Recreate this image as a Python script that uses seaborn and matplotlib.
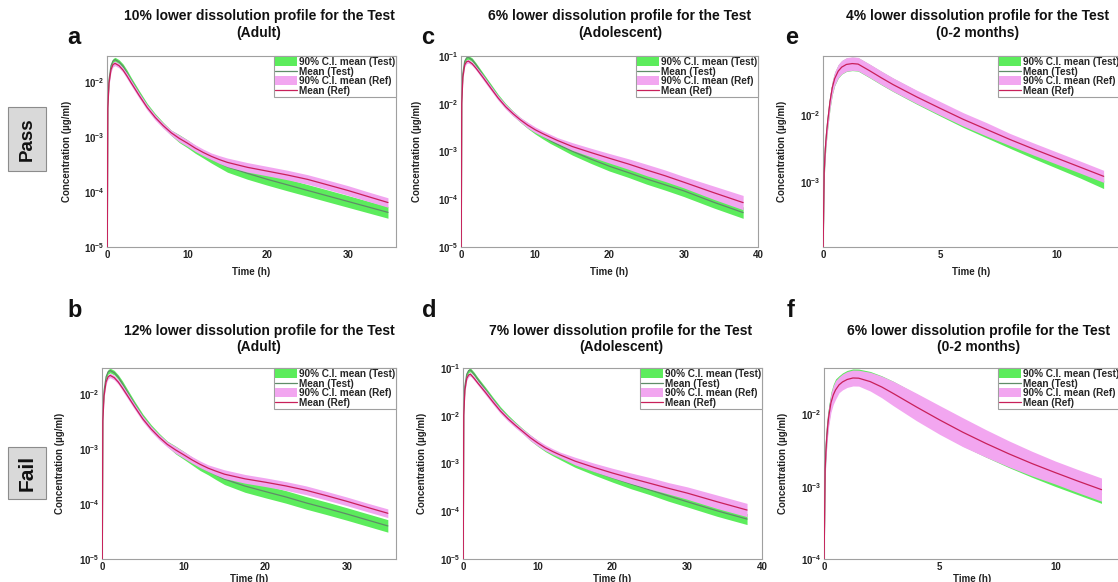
import math
import matplotlib
matplotlib.use("Agg")
import matplotlib.pyplot as plt
from matplotlib.lines import Line2D
from matplotlib.patches import Patch, Rectangle
from matplotlib.ticker import FixedLocator, FuncFormatter, NullLocator
import seaborn as sns

# ---- data (time in h, concentration in ug/ml) ----
t_adult = [0.01, 0.1, 0.25, 0.5, 0.75, 1, 1.5, 2, 2.5, 3, 4, 5, 6, 7, 8, 9, 10, 11, 12, 13, 14, 15,
           17.5, 20, 22.5, 25, 27.5, 30, 32.5, 35]
t_adol = [0.01, 0.1, 0.25, 0.5, 0.75, 1, 1.5, 2, 3, 4, 5, 6, 7, 8, 9, 10, 11, 12, 13, 15,
          17.5, 20, 22.5, 25, 27.5, 30, 34, 38]
t_infant = [0.005, 0.05, 0.1, 0.15, 0.2, 0.3, 0.4, 0.5, 0.65, 0.8, 1.0, 1.25, 1.5, 2, 2.5, 3,
            4, 5, 6, 7, 8, 9, 10, 11, 12]

# a: 10% lower, adult
a_test = [1e-6, 3.8e-3, 1.1e-2, 2.0e-2, 2.45e-2, 2.58e-2, 2.34e-2, 1.95e-2, 1.48e-2, 1.1e-2, 6.3e-3, 3.7e-3, 2.4e-3, 1.66e-3, 1.2e-3, 9.4e-4, 7.6e-4, 6.0e-4, 4.9e-4, 3.98e-4, 3.39e-4, 2.88e-4, 2.19e-4, 1.7e-4, 1.35e-4, 1.07e-4, 8.5e-5, 6.76e-5, 5.37e-5, 4.27e-5]
a_test_lo = [1e-6, 3.45e-3, 1.0e-2, 1.82e-2, 2.23e-2, 2.35e-2, 2.13e-2, 1.77e-2, 1.32e-2, 9.8e-3, 5.63e-3, 3.3e-3, 2.14e-3, 1.48e-3, 1.07e-3, 7.97e-4, 6.44e-4, 5.08e-4, 4.15e-4, 3.37e-4, 2.78e-4, 2.3e-4, 1.71e-4, 1.33e-4, 1.05e-4, 8.36e-5, 6.64e-5, 5.28e-5, 4.2e-5, 3.34e-5]
a_test_hi = [1e-6, 4.18e-3, 1.21e-2, 2.2e-2, 2.7e-2, 2.84e-2, 2.57e-2, 2.15e-2, 1.66e-2, 1.23e-2, 7.06e-3, 4.14e-3, 2.69e-3, 1.86e-3, 1.34e-3, 1.11e-3, 8.97e-4, 7.08e-4, 5.78e-4, 4.7e-4, 4.14e-4, 3.6e-4, 2.8e-4, 2.18e-4, 1.73e-4, 1.37e-4, 1.09e-4, 8.65e-5, 6.87e-5, 5.47e-5]
a_ref = [1e-6, 3.3e-3, 9.5e-3, 1.7e-2, 2.1e-2, 2.2e-2, 2.0e-2, 1.66e-2, 1.29e-2, 9.8e-3, 5.75e-3, 3.47e-3, 2.29e-3, 1.62e-3, 1.2e-3, 9.5e-4, 7.8e-4, 6.3e-4, 5.25e-4, 4.47e-4, 3.9e-4, 3.47e-4, 2.82e-4, 2.4e-4, 2.04e-4, 1.7e-4, 1.35e-4, 1.07e-4, 8.3e-5, 6.45e-5]
a_ref_lo = [1e-6, 3.0e-3, 8.64e-3, 1.545e-2, 1.91e-2, 2.0e-2, 1.82e-2, 1.51e-2, 1.15e-2, 8.75e-3, 5.13e-3, 3.1e-3, 2.04e-3, 1.45e-3, 1.07e-3, 8.26e-4, 6.78e-4, 5.48e-4, 4.57e-4, 3.89e-4, 3.31e-4, 2.89e-4, 2.31e-4, 1.97e-4, 1.67e-4, 1.39e-4, 1.11e-4, 8.77e-5, 6.8e-5, 5.29e-5]
a_ref_hi = [1e-6, 3.63e-3, 1.045e-2, 1.87e-2, 2.31e-2, 2.42e-2, 2.2e-2, 1.83e-2, 1.445e-2, 1.1e-2, 6.44e-3, 3.89e-3, 2.56e-3, 1.81e-3, 1.34e-3, 1.09e-3, 8.97e-4, 7.25e-4, 6.04e-4, 5.14e-4, 4.6e-4, 4.16e-4, 3.44e-4, 2.93e-4, 2.49e-4, 2.07e-4, 1.65e-4, 1.31e-4, 1.01e-4, 7.87e-5]

# b: 12% lower, adult
b_test = [1e-6, 3.94e-3, 1.14e-2, 2.07e-2, 2.56e-2, 2.7e-2, 2.46e-2, 2.04e-2, 1.56e-2, 1.17e-2, 6.62e-3, 3.89e-3, 2.51e-3, 1.73e-3, 1.25e-3, 9.7e-4, 7.73e-4, 6.11e-4, 4.83e-4, 4.01e-4, 3.37e-4, 2.84e-4, 2.13e-4, 1.69e-4, 1.35e-4, 1.05e-4, 8.36e-5, 6.59e-5, 5.13e-5, 4.0e-5]
b_test_lo = [1e-6, 3.58e-3, 1.04e-2, 1.88e-2, 2.33e-2, 2.45e-2, 2.24e-2, 1.85e-2, 1.39e-2, 1.04e-2, 5.91e-3, 3.47e-3, 2.24e-3, 1.54e-3, 1.12e-3, 8.22e-4, 6.55e-4, 5.18e-4, 4.09e-4, 3.4e-4, 2.76e-4, 2.27e-4, 1.64e-4, 1.3e-4, 1.04e-4, 8.08e-5, 6.43e-5, 5.07e-5, 3.95e-5, 3.08e-5]
b_test_hi = [1e-6, 4.33e-3, 1.25e-2, 2.28e-2, 2.82e-2, 2.97e-2, 2.71e-2, 2.24e-2, 1.75e-2, 1.31e-2, 7.41e-3, 4.36e-3, 2.81e-3, 1.94e-3, 1.4e-3, 1.14e-3, 9.12e-4, 7.21e-4, 5.7e-4, 4.73e-4, 4.11e-4, 3.55e-4, 2.77e-4, 2.2e-4, 1.76e-4, 1.37e-4, 1.09e-4, 8.57e-5, 6.67e-5, 5.2e-5]
b_ref = [1e-6, 3.2e-3, 9.3e-3, 1.68e-2, 2.08e-2, 2.2e-2, 2.0e-2, 1.66e-2, 1.3e-2, 1.0e-2, 5.9e-3, 3.55e-3, 2.34e-3, 1.65e-3, 1.22e-3, 9.7e-4, 7.9e-4, 6.4e-4, 5.3e-4, 4.5e-4, 3.95e-4, 3.5e-4, 2.88e-4, 2.5e-4, 2.14e-4, 1.78e-4, 1.42e-4, 1.12e-4, 8.7e-5, 6.8e-5]
b_ref_lo = [1e-6, 2.91e-3, 8.45e-3, 1.527e-2, 1.89e-2, 2.0e-2, 1.82e-2, 1.51e-2, 1.16e-2, 8.93e-3, 5.27e-3, 3.17e-3, 2.09e-3, 1.47e-3, 1.09e-3, 8.43e-4, 6.87e-4, 5.57e-4, 4.61e-4, 3.91e-4, 3.35e-4, 2.92e-4, 2.4e-4, 2.08e-4, 1.78e-4, 1.48e-4, 1.18e-4, 9.33e-5, 7.25e-5, 5.67e-5]
b_ref_hi = [1e-6, 3.52e-3, 1.023e-2, 1.848e-2, 2.29e-2, 2.42e-2, 2.2e-2, 1.83e-2, 1.46e-2, 1.12e-2, 6.61e-3, 3.98e-3, 2.62e-3, 1.85e-3, 1.37e-3, 1.12e-3, 9.09e-4, 7.36e-4, 6.1e-4, 5.18e-4, 4.66e-4, 4.2e-4, 3.46e-4, 3.0e-4, 2.57e-4, 2.14e-4, 1.7e-4, 1.34e-4, 1.04e-4, 8.16e-5]

# c: 6% lower, adolescent
c_test = [1e-6, 1.2e-2, 4.27e-2, 7.76e-2, 9.12e-2, 9.33e-2, 8.32e-2, 6.61e-2, 3.89e-2, 2.34e-2, 1.41e-2, 9.12e-3, 6.31e-3, 4.57e-3, 3.47e-3, 2.66e-3, 2.11e-3, 1.7e-3, 1.41e-3, 1.01e-3, 6.92e-4, 4.9e-4, 3.63e-4, 2.66e-4, 2.0e-4, 1.5e-4, 8.7e-5, 5.25e-5]
c_test_lo = [1e-6, 1.09e-2, 3.9e-2, 7.08e-2, 8.32e-2, 8.51e-2, 7.59e-2, 6.03e-2, 3.47e-2, 2.09e-2, 1.26e-2, 8.13e-3, 5.62e-3, 4.07e-3, 3.02e-3, 2.32e-3, 1.84e-3, 1.48e-3, 1.23e-3, 8.4e-4, 5.63e-4, 3.89e-4, 2.88e-4, 2.07e-4, 1.55e-4, 1.14e-4, 6.6e-5, 3.98e-5]
c_test_hi = [1e-6, 1.32e-2, 4.68e-2, 8.5e-2, 1.0e-1, 1.02e-1, 9.12e-2, 7.24e-2, 4.36e-2, 2.63e-2, 1.58e-2, 1.02e-2, 7.08e-3, 5.13e-3, 3.98e-3, 3.05e-3, 2.42e-3, 1.95e-3, 1.62e-3, 1.21e-3, 8.51e-4, 6.17e-4, 4.57e-4, 3.43e-4, 2.58e-4, 1.98e-4, 1.15e-4, 6.92e-5]
c_ref = [1e-6, 1.0e-2, 3.55e-2, 6.5e-2, 7.6e-2, 7.8e-2, 6.9e-2, 5.6e-2, 3.5e-2, 2.14e-2, 1.32e-2, 8.7e-3, 6.2e-3, 4.6e-3, 3.55e-3, 2.85e-3, 2.37e-3, 2.0e-3, 1.7e-3, 1.27e-3, 9.5e-4, 7.2e-4, 5.5e-4, 4.1e-4, 3.1e-4, 2.28e-4, 1.38e-4, 8.5e-5]
c_ref_lo = [1e-6, 9.1e-3, 3.24e-2, 5.93e-2, 6.93e-2, 7.12e-2, 6.3e-2, 5.11e-2, 3.12e-2, 1.91e-2, 1.18e-2, 7.75e-3, 5.53e-3, 4.1e-3, 3.09e-3, 2.48e-3, 2.06e-3, 1.74e-3, 1.48e-3, 1.06e-3, 7.72e-4, 5.72e-4, 4.27e-4, 3.11e-4, 2.35e-4, 1.73e-4, 1.0e-4, 6.02e-5]
c_ref_hi = [1e-6, 1.1e-2, 3.89e-2, 7.12e-2, 8.33e-2, 8.55e-2, 7.56e-2, 6.14e-2, 3.93e-2, 2.4e-2, 1.48e-2, 9.76e-3, 6.96e-3, 5.16e-3, 4.08e-3, 3.27e-3, 2.72e-3, 2.3e-3, 1.95e-3, 1.53e-3, 1.17e-3, 9.06e-4, 7.08e-4, 5.4e-4, 4.09e-4, 3.0e-4, 1.9e-4, 1.2e-4]

# d: 7% lower, adolescent
d_test = [1e-6, 1.23e-2, 4.17e-2, 7.41e-2, 8.81e-2, 9.12e-2, 7.41e-2, 5.75e-2, 3.55e-2, 2.19e-2, 1.38e-2, 9.33e-3, 6.61e-3, 4.79e-3, 3.47e-3, 2.63e-3, 2.04e-3, 1.66e-3, 1.38e-3, 9.77e-4, 6.92e-4, 5.01e-4, 3.72e-4, 2.79e-4, 2.09e-4, 1.58e-4, 1.02e-4, 6.86e-5]
d_test_lo = [1e-6, 1.12e-2, 3.8e-2, 6.76e-2, 8.04e-2, 8.32e-2, 6.76e-2, 5.25e-2, 3.16e-2, 1.95e-2, 1.23e-2, 8.32e-3, 5.89e-3, 4.27e-3, 3.02e-3, 2.29e-3, 1.78e-3, 1.45e-3, 1.2e-3, 8.31e-4, 5.76e-4, 4.07e-4, 2.95e-4, 2.22e-4, 1.62e-4, 1.23e-4, 7.83e-5, 5.26e-5]
d_test_hi = [1e-6, 1.35e-2, 4.57e-2, 8.12e-2, 9.66e-2, 1.0e-1, 8.12e-2, 6.3e-2, 3.98e-2, 2.46e-2, 1.55e-2, 1.05e-2, 7.42e-3, 5.37e-3, 3.98e-3, 3.02e-3, 2.34e-3, 1.91e-3, 1.58e-3, 1.15e-3, 8.32e-4, 6.16e-4, 4.68e-4, 3.51e-4, 2.69e-4, 2.04e-4, 1.33e-4, 8.94e-5]
d_ref = [1e-6, 1.0e-2, 3.39e-2, 6.03e-2, 7.16e-2, 7.41e-2, 6.03e-2, 4.79e-2, 3.09e-2, 1.95e-2, 1.26e-2, 8.71e-3, 6.31e-3, 4.68e-3, 3.47e-3, 2.69e-3, 2.14e-3, 1.78e-3, 1.51e-3, 1.12e-3, 8.32e-4, 6.31e-4, 4.9e-4, 3.85e-4, 3.02e-4, 2.4e-4, 1.58e-4, 1.06e-4]
d_ref_lo = [1e-6, 9.12e-3, 3.09e-2, 5.5e-2, 6.53e-2, 6.76e-2, 5.5e-2, 4.37e-2, 2.75e-2, 1.74e-2, 1.12e-2, 7.76e-3, 5.62e-3, 4.17e-3, 3.02e-3, 2.34e-3, 1.86e-3, 1.55e-3, 1.32e-3, 9.32e-4, 6.76e-4, 5.01e-4, 3.8e-4, 2.92e-4, 2.29e-4, 1.78e-4, 1.14e-4, 7.68e-5]
d_ref_hi = [1e-6, 1.1e-2, 3.72e-2, 6.61e-2, 7.85e-2, 8.12e-2, 6.61e-2, 5.25e-2, 3.47e-2, 2.19e-2, 1.41e-2, 9.77e-3, 7.08e-3, 5.25e-3, 3.98e-3, 3.09e-3, 2.46e-3, 2.04e-3, 1.73e-3, 1.35e-3, 1.02e-3, 7.94e-4, 6.31e-4, 5.07e-4, 3.98e-4, 3.24e-4, 2.18e-4, 1.46e-4]

# e: 4% lower, 0-2 months
e_test = [1.0e-4, 1.4e-3, 3.13e-3, 5.2e-3, 7.86e-3, 1.56e-2, 2.54e-2, 3.43e-2, 4.42e-2, 5.07e-2, 5.56e-2, 5.73e-2, 5.63e-2, 4.47e-2, 3.51e-2, 2.79e-2, 1.82e-2, 1.22e-2, 8.22e-3, 5.75e-3, 4.03e-3, 2.85e-3, 2.04e-3, 1.46e-3, 1.02e-3]
e_test_lo = [1.0e-4, 1.11e-3, 2.49e-3, 4.13e-3, 6.24e-3, 1.24e-2, 2.02e-2, 2.72e-2, 3.51e-2, 4.03e-2, 4.42e-2, 4.55e-2, 4.47e-2, 3.55e-2, 2.79e-2, 2.22e-2, 1.45e-2, 9.69e-3, 6.53e-3, 4.57e-3, 3.2e-3, 2.26e-3, 1.62e-3, 1.16e-3, 8.1e-4]
e_test_hi = [1.0e-4, 1.76e-3, 3.94e-3, 6.55e-3, 9.9e-3, 1.96e-2, 3.2e-2, 4.32e-2, 5.56e-2, 6.38e-2, 7.0e-2, 7.21e-2, 7.09e-2, 5.63e-2, 4.42e-2, 3.51e-2, 2.29e-2, 1.54e-2, 1.03e-2, 7.24e-3, 5.07e-3, 3.59e-3, 2.57e-3, 1.84e-3, 1.28e-3]
e_ref = [1.0e-4, 1.41e-3, 3.16e-3, 5.25e-3, 7.94e-3, 1.58e-2, 2.57e-2, 3.47e-2, 4.47e-2, 5.13e-2, 5.62e-2, 5.79e-2, 5.69e-2, 4.52e-2, 3.55e-2, 2.82e-2, 1.86e-2, 1.26e-2, 8.61e-3, 6.1e-3, 4.32e-3, 3.13e-3, 2.29e-3, 1.68e-3, 1.23e-3]
e_ref_lo = [1.0e-4, 1.12e-3, 2.51e-3, 4.17e-3, 6.31e-3, 1.26e-2, 2.04e-2, 2.76e-2, 3.55e-2, 4.07e-2, 4.46e-2, 4.6e-2, 4.52e-2, 3.59e-2, 2.82e-2, 2.24e-2, 1.48e-2, 1.0e-2, 6.84e-3, 4.85e-3, 3.51e-3, 2.54e-3, 1.86e-3, 1.37e-3, 1.0e-3]
e_ref_hi = [1.0e-4, 1.78e-3, 3.98e-3, 6.61e-3, 1.0e-2, 1.99e-2, 3.24e-2, 4.37e-2, 5.63e-2, 6.46e-2, 7.08e-2, 7.29e-2, 7.16e-2, 5.69e-2, 4.47e-2, 3.55e-2, 2.34e-2, 1.59e-2, 1.08e-2, 7.68e-3, 5.31e-3, 3.85e-3, 2.82e-3, 2.07e-3, 1.51e-3]

# f: 6% lower, 0-2 months
f_test = [1.0e-4, 1.91e-3, 4.07e-3, 6.76e-3, 9.78e-3, 1.55e-2, 1.99e-2, 2.35e-2, 2.76e-2, 3.02e-2, 3.27e-2, 3.43e-2, 3.41e-2, 3.06e-2, 2.54e-2, 2.04e-2, 1.3e-2, 8.41e-3, 5.56e-3, 3.8e-3, 2.66e-3, 1.91e-3, 1.4e-3, 1.04e-3, 7.94e-4]
f_test_lo = [1.0e-4, 1.45e-3, 3.09e-3, 5.13e-3, 7.42e-3, 1.18e-2, 1.51e-2, 1.78e-2, 2.22e-2, 2.43e-2, 2.63e-2, 2.76e-2, 2.74e-2, 2.38e-2, 1.88e-2, 1.44e-2, 8.79e-3, 5.55e-3, 3.67e-3, 2.57e-3, 1.84e-3, 1.35e-3, 1.01e-3, 7.71e-4, 5.89e-4]
f_test_hi = [1.0e-4, 2.52e-3, 5.36e-3, 8.91e-3, 1.29e-2, 2.04e-2, 2.62e-2, 3.1e-2, 3.44e-2, 3.76e-2, 4.07e-2, 4.27e-2, 4.25e-2, 3.94e-2, 3.43e-2, 2.88e-2, 1.92e-2, 1.27e-2, 8.42e-3, 5.62e-3, 3.84e-3, 2.7e-3, 1.93e-3, 1.4e-3, 1.07e-3]
f_ref = [1.0e-4, 1.78e-3, 3.8e-3, 6.31e-3, 9.12e-3, 1.45e-2, 1.86e-2, 2.19e-2, 2.57e-2, 2.82e-2, 3.05e-2, 3.2e-2, 3.18e-2, 2.85e-2, 2.4e-2, 1.95e-2, 1.27e-2, 8.41e-3, 5.69e-3, 3.98e-3, 2.85e-3, 2.09e-3, 1.57e-3, 1.19e-3, 9.12e-4]
f_ref_lo = [1.0e-4, 1.32e-3, 2.82e-3, 4.68e-3, 6.76e-3, 1.07e-2, 1.38e-2, 1.62e-2, 2.0e-2, 2.19e-2, 2.37e-2, 2.48e-2, 2.47e-2, 2.11e-2, 1.7e-2, 1.32e-2, 8.2e-3, 5.31e-3, 3.59e-3, 2.57e-3, 1.88e-3, 1.41e-3, 1.09e-3, 8.24e-4, 6.31e-4]
f_ref_hi = [1.0e-4, 2.4e-3, 5.13e-3, 8.51e-3, 1.23e-2, 1.96e-2, 2.51e-2, 2.95e-2, 3.31e-2, 3.63e-2, 3.93e-2, 4.12e-2, 4.1e-2, 3.84e-2, 3.39e-2, 2.88e-2, 1.97e-2, 1.33e-2, 9.02e-3, 6.17e-3, 4.31e-3, 3.09e-3, 2.27e-3, 1.72e-3, 1.32e-3]

titles = [
    "10% lower dissolution profile for the Test\n(Adult)",
    "12% lower dissolution profile for the Test\n(Adult)",
    "6% lower dissolution profile for the Test\n(Adolescent)",
    "7% lower dissolution profile for the Test\n(Adolescent)",
    "4% lower dissolution profile for the Test\n(0-2 months)",
    "6% lower dissolution profile for the Test\n(0-2 months)",
]
letters = ["a", "b", "c", "d", "e", "f"]
legend_labels = ["90% C.I. mean (Test)", "Mean (Test)", "90% C.I. mean (Ref)", "Mean (Ref)"]

# ---- style ----
W, H = 1118, 582
GREEN = "#5cec5c"
PINK = "#f2a6f0"
TEST_LINE = "#5f8c68"
REF_LINE = "#c8205a"

sns.set_theme(style="white")
plt.rcParams["font.family"] = ["Liberation Sans", "DejaVu Sans"]
plt.rcParams["mathtext.fontset"] = "custom"
plt.rcParams["mathtext.rm"] = "Liberation Sans"
plt.rcParams["mathtext.bf"] = "Liberation Sans:bold"


def px_rect(l, t, r, b):
    return [l / W, 1 - b / H, (r - l) / W, (b - t) / H]


def fx(x):
    return x / W


def fy(y):
    return 1 - y / H


def decade_fmt(v, pos):
    e = int(round(math.log10(v)))
    return r"$\mathbf{10^{%d}}$" % e


panels = [
    dict(rect=(107, 56, 396, 247), t=t_adult, data=(a_test, a_test_lo, a_test_hi, a_ref, a_ref_lo, a_ref_hi),
         xlim=(0, 36), ylim=(1e-5, 3e-2), xticks=[0, 10, 20, 30], yticks=[1e-5, 1e-4, 1e-3, 1e-2],
         ylab_x=72, xlab_dy=20, title_xy=(259, 24.5), letter_xy=(67, 44), ls=1.25),
    dict(rect=(102, 368, 396, 559), t=t_adult, data=(b_test, b_test_lo, b_test_hi, b_ref, b_ref_lo, b_ref_hi),
         xlim=(0, 36), ylim=(1e-5, 3e-2), xticks=[0, 10, 20, 30], yticks=[1e-5, 1e-4, 1e-3, 1e-2],
         ylab_x=65, xlab_dy=15, title_xy=(259, 339), letter_xy=(67, 317), ls=1.15),
    dict(rect=(461, 56, 758, 247), t=t_adol, data=(c_test, c_test_lo, c_test_hi, c_ref, c_ref_lo, c_ref_hi),
         xlim=(0, 40), ylim=(1e-5, 1e-1), xticks=[0, 10, 20, 30, 40], yticks=[1e-5, 1e-4, 1e-3, 1e-2, 1e-1],
         ylab_x=422, xlab_dy=20, title_xy=(620, 24.5), letter_xy=(421, 44), ls=1.25),
    dict(rect=(463, 368, 762, 559), t=t_adol, data=(d_test, d_test_lo, d_test_hi, d_ref, d_ref_lo, d_ref_hi),
         xlim=(0, 40), ylim=(1e-5, 1e-1), xticks=[0, 10, 20, 30, 40], yticks=[1e-5, 1e-4, 1e-3, 1e-2, 1e-1],
         ylab_x=427, xlab_dy=15, title_xy=(621, 339), letter_xy=(422, 317), ls=1.15),
    dict(rect=(823, 56, 1120, 247), t=t_infant, data=(e_test, e_test_lo, e_test_hi, e_ref, e_ref_lo, e_ref_hi),
         xlim=(0, 12.7), ylim=(1.1e-4, 7.5e-2), xticks=[0, 5, 10], yticks=[1e-3, 1e-2],
         ylab_x=787, xlab_dy=20, title_xy=(978, 24.5), letter_xy=(785, 44), ls=1.25),
    dict(rect=(824, 368, 1120, 559), t=t_infant, data=(f_test, f_test_lo, f_test_hi, f_ref, f_ref_lo, f_ref_hi),
         xlim=(0, 12.8), ylim=(1e-4, 4.4e-2), xticks=[0, 5, 10], yticks=[1e-4, 1e-3, 1e-2],
         ylab_x=788, xlab_dy=15, title_xy=(979, 339), letter_xy=(787, 317), ls=1.15),
]

fig = plt.figure(figsize=(W / 100, H / 100), dpi=100)

for i, p in enumerate(panels):
    l, t, r, b = p["rect"]
    ax = fig.add_axes(px_rect(l, t, r, b))
    ax.set_yscale("log")
    test, test_lo, test_hi, ref, ref_lo, ref_hi = p["data"]
    tt = p["t"]

    ax.fill_between(tt, test_lo, test_hi, color=GREEN, linewidth=0, zorder=1)
    sns.lineplot(x=tt, y=test, ax=ax, color=TEST_LINE, linewidth=0.9, sort=False, errorbar=None, zorder=2)
    ax.fill_between(tt, ref_lo, ref_hi, color=PINK, linewidth=0, zorder=3)
    sns.lineplot(x=tt, y=ref, ax=ax, color=REF_LINE, linewidth=0.9, sort=False, errorbar=None, zorder=4)

    ax.set_xlim(*p["xlim"])
    ax.set_ylim(*p["ylim"])
    ax.xaxis.set_major_locator(FixedLocator(p["xticks"]))
    ax.yaxis.set_major_locator(FixedLocator(p["yticks"]))
    ax.yaxis.set_minor_locator(NullLocator())
    ax.yaxis.set_major_formatter(FuncFormatter(decade_fmt))
    ax.tick_params(axis="both", which="both", length=0, pad=2, labelsize=7, labelcolor="#222222")
    for lab in ax.get_xticklabels():
        lab.set_fontweight("bold")

    for s in ax.spines.values():
        s.set_color("#a0a0a0")
        s.set_linewidth(0.8)

    ax.set_xlabel("Time (h)", fontsize=7, fontweight="bold", color="#222222")
    ax.xaxis.set_label_coords(0.5, -(p["xlab_dy"] / (b - t)))
    ax.set_ylabel("Concentration (µg/ml)", fontsize=7, fontweight="bold", color="#222222")
    ax.yaxis.set_label_coords((p["ylab_x"] - l) / (r - l), 0.5)

    handles = [
        Patch(facecolor=GREEN, edgecolor="none"),
        Line2D([], [], color=TEST_LINE, linewidth=0.9),
        Patch(facecolor=PINK, edgecolor="none"),
        Line2D([], [], color=REF_LINE, linewidth=0.9),
    ]
    leg = ax.legend(handles, legend_labels, loc="upper right", borderaxespad=0, frameon=True,
                    fancybox=False, framealpha=1, edgecolor="#a0a0a0",
                    prop={"weight": "bold", "size": 7.2}, handlelength=2.2, handleheight=1.0,
                    handletextpad=0.15, labelspacing=-0.04, borderpad=0.1)
    leg.get_frame().set_linewidth(0.8)

    tx, ty = p["title_xy"]
    fig.text(fx(tx), fy(ty), titles[i], ha="center", va="center", fontsize=10,
             fontweight="bold", linespacing=p["ls"], color="#111111")
    lx, ly = p["letter_xy"]
    fig.text(fx(lx), fy(ly), letters[i], ha="left", va="baseline", fontsize=17,
             fontweight="bold", color="#111111")

# Pass / Fail row tags
fig.patches.append(Rectangle((fx(8), fy(171)), 38 / W, 64 / H, transform=fig.transFigure,
                             facecolor="#d9d9d9", edgecolor="#8c8c8c", linewidth=0.8))
fig.text(fx(27), fy(139), "Pass", rotation=90, ha="center", va="center", fontsize=13.5,
         fontweight="bold", color="#111111")
fig.patches.append(Rectangle((fx(8), fy(499)), 38 / W, 52 / H, transform=fig.transFigure,
                             facecolor="#d9d9d9", edgecolor="#8c8c8c", linewidth=0.8))
fig.text(fx(27), fy(473), "Fail", rotation=90, ha="center", va="center", fontsize=15,
         fontweight="bold", color="#111111")

fig.savefig("out.png", dpi=100, facecolor="white")
